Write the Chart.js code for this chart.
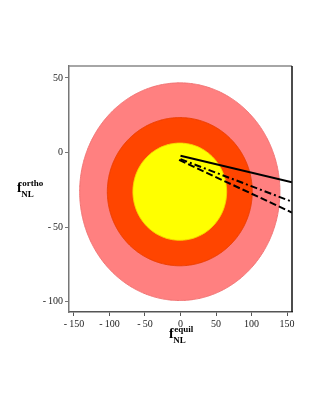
<!DOCTYPE html>
<html><head><meta charset="utf-8">
<script src="https://cdn.jsdelivr.net/npm/chart.js@4/dist/chart.umd.min.js"></script>
<style>html,body{margin:0;padding:0;background:#fff}#wrap{width:316px;height:409px}</style>
</head><body><div id="wrap"><canvas id="c" width="316" height="409"></canvas></div>
<script>
// ---- data ----
const xTicks = [-150, -100, -50, 0, 50, 100, 150];
const yTicks = [-100, -50, 0, 50];
const xRange = [-157, 157];
const yRange = [-107, 58];

// confidence ellipses (outer -> inner)
const ellipseNames   = ['outer', 'middle', 'inner'];
const ellipseCenterX = [-1, -1, -1];
const ellipseCenterY = [-26.3, -26.3, -26.3];
const ellipseRadiusX = [141, 102, 66];
const ellipseRadiusY = [73, 49.7, 32.6];

// straight lines (start, end)
const lineNames = ['solid', 'dashdot', 'dashed'];
const lineX = [[0, 157], [0, 157], [-2, 157]];
const lineY = [[-2.2, -20.0], [-4.5, -33.0], [-5.0, -40.3]];

// ---- styling ----
const ellipseFill   = ['rgb(255,128,128)', 'rgb(255,69,0)', 'rgb(255,255,0)'];
const ellipseBorder = ['rgb(240,115,115)', 'rgb(236,62,0)', 'rgb(248,220,0)'];
const lineDash = [[], [7, 3, 2, 3], [7, 3]];

function ellipsePoints(i) {
  const pts = [];
  const n = 180;
  for (let k = 0; k < n; k++) {
    const t = Math.PI / 2 + 2 * Math.PI * k / n;
    pts.push({ x: ellipseCenterX[i] + ellipseRadiusX[i] * Math.cos(t),
               y: ellipseCenterY[i] + ellipseRadiusY[i] * Math.sin(t) });
  }
  pts.push({ x: pts[0].x, y: pts[0].y });
  return pts;
}

const datasets = [];
lineNames.forEach((name, i) => {
  datasets.push({
    label: name, type: 'line', order: 0,
    data: lineX[i].map((x, k) => ({ x: x, y: lineY[i][k] })),
    borderColor: '#000', borderWidth: 2, borderDash: lineDash[i],
    pointRadius: 0, fill: false, tension: 0
  });
});
ellipseNames.forEach((name, i) => {
  datasets.push({
    label: name, type: 'line', order: 3 - i,
    data: ellipsePoints(i),
    borderColor: ellipseBorder[i], backgroundColor: ellipseFill[i], borderWidth: 1,
    pointRadius: 0, pointHitRadius: 0, fill: 'shape', tension: 0.02
  });
});

const fmt = v => (v < 0 ? '-\u2009' + Math.abs(v) : String(v));
const tickFont = { family: 'Liberation Serif', size: 10 };

const framePlugin = {
  id: 'frame',
  afterDraw(chart) {
    const { ctx, chartArea: a } = chart;
    ctx.save();
    ctx.lineWidth = 1.5;
    ctx.strokeStyle = '#888';
    ctx.beginPath(); ctx.moveTo(a.left, a.top); ctx.lineTo(a.right, a.top); ctx.stroke();
    ctx.strokeStyle = '#111';
    ctx.beginPath(); ctx.moveTo(a.right, a.top); ctx.lineTo(a.right, a.bottom); ctx.stroke();
    ctx.restore();
  }
};

function drawLabel(ctx, x, y, sup, sub) {
  ctx.font = 'bold 14px "Liberation Serif"';
  ctx.fillStyle = '#000';
  ctx.textBaseline = 'alphabetic';
  ctx.textAlign = 'left';
  ctx.fillText('f', x, y);
  const w = ctx.measureText('f').width;
  ctx.font = 'bold 9px "Liberation Serif"';
  ctx.fillText(sup, x + w + 0.5, y - 6);
  ctx.fillText(sub, x + w - 0.5, y + 5);
}

const labelPlugin = {
  id: 'axisLabels',
  afterDraw(chart) {
    const ctx = chart.ctx;
    ctx.save();
    drawLabel(ctx, 17, 192, 'ortho', 'NL');
    drawLabel(ctx, 169, 338, 'equil', 'NL');
    ctx.restore();
  }
};

new Chart(document.getElementById('c'), {
  type: 'scatter',
  data: { datasets },
  options: {
    responsive: false, animation: false, devicePixelRatio: 1,
    layout: { padding: { top: 66, right: 24, left: 0, bottom: 0 } },
    plugins: { legend: { display: false }, tooltip: { enabled: false } },
    scales: {
      x: {
        type: 'linear', min: xRange[0], max: xRange[1],
        afterBuildTicks: s => { s.ticks = xTicks.map(v => ({ value: v })); },
        afterFit: s => { s.height = 97; },
        grid: { drawOnChartArea: false, drawTicks: true, tickLength: 4, color: '#555' },
        border: { color: '#555', width: 1.5 },
        ticks: { font: tickFont, color: '#222', padding: 2, maxRotation: 0, autoSkip: false, callback: v => fmt(v) }
      },
      y: {
        type: 'linear', min: yRange[0], max: yRange[1],
        afterBuildTicks: s => { s.ticks = yTicks.map(v => ({ value: v })); },
        afterFit: s => { s.width = 69; },
        grid: { drawOnChartArea: false, drawTicks: true, tickLength: 4, color: '#777' },
        border: { color: '#777', width: 1.5 },
        ticks: { font: tickFont, color: '#222', padding: 2, autoSkip: false, callback: v => fmt(v) }
      }
    }
  },
  plugins: [framePlugin, labelPlugin]
});
</script></body></html>
